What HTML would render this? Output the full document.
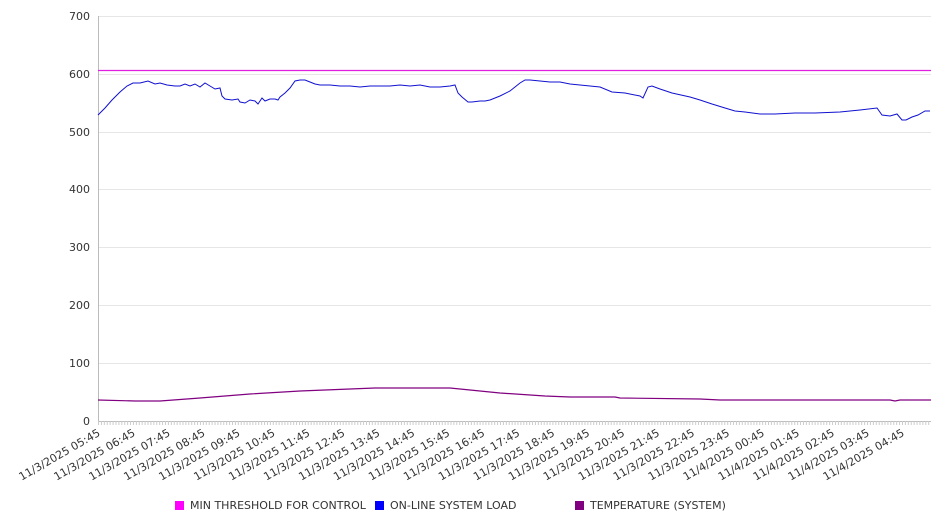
<!DOCTYPE html>
<html><head><meta charset="utf-8"><style>
html,body{margin:0;padding:0;background:#fff;}
svg{display:block;font-family:"DejaVu Sans","Liberation Sans",sans-serif;}
</style></head><body>
<svg width="946" height="526" viewBox="0 0 946 526" xmlns="http://www.w3.org/2000/svg">
<g stroke="#e6e6e6" stroke-width="1">
<line x1="98" y1="16.5" x2="931" y2="16.5"/>
<line x1="98" y1="74.5" x2="931" y2="74.5"/>
<line x1="98" y1="132.5" x2="931" y2="132.5"/>
<line x1="98" y1="189.5" x2="931" y2="189.5"/>
<line x1="98" y1="247.5" x2="931" y2="247.5"/>
<line x1="98" y1="305.5" x2="931" y2="305.5"/>
<line x1="98" y1="363.5" x2="931" y2="363.5"/>
</g>
<line x1="98.5" y1="16" x2="98.5" y2="421" stroke="#bbb"/>
<line x1="98" y1="421.5" x2="931" y2="421.5" stroke="#bbb"/>
<g fill="#333" font-size="11" text-anchor="end">
<text x="90" y="20">700</text><text x="90" y="78">600</text><text x="90" y="136">500</text>
<text x="90" y="193">400</text><text x="90" y="251">300</text><text x="90" y="309">200</text>
<text x="90" y="367">100</text><text x="90" y="425">0</text>
</g>
<g id="ticks" stroke="#ccc" stroke-width="1"></g>
<g id="labels" fill="#333" font-size="11" text-anchor="end"></g>
<line x1="98" y1="70.5" x2="931" y2="70.5" stroke="#e020e0" stroke-width="1.2"/>
<polyline fill="none" stroke="#1010d0" stroke-width="1" points="98,115 105,108 112,100 120,92 127,86 133,83 140,83 148,81 155,84 160,83 167,85 175,86 180,86 185,84 190,86 195,84 200,87 205,83 210,86 215,89 220,88 222,96 225,99 232,100 238,99 240,102 245,103 250,100 255,101 258,104 262,98 265,101 270,99 275,99 278,100 280,97 285,93 290,88 295,81 300,80 305,80 310,82 315,84 320,85 330,85 340,86 350,86 360,87 370,86 380,86 390,86 400,85 410,86 420,85 430,87 440,87 450,86 455,85 458,93 462,97 468,102 472,102 480,101 485,101 490,100 500,96 510,91 515,87 520,83 525,80 530,80 540,81 550,82 560,82 570,84 580,85 590,86 600,87 612,92 625,93 640,96 643,98 648,87 652,86 660,89 672,93 690,97 700,100 712,104 725,108 735,111 745,112 760,114 775,114 795,113 815,113 840,112 860,110 877,108 882,115 890,116 897,114 902,120 906,120 912,117 918,115 925,111 930,111"/>
<polyline fill="none" stroke="#800080" stroke-width="1.2" points="98,400 135,401 160,401 200,398 250,394 300,391 350,389 375,388 450,388 470,390 500,393 545,396 570,397 615,397 620,398 700,399 720,400 800,400 890,400 895,401 900,400 931,400"/>
<g font-size="11" fill="#333">
<rect x="175" y="501" width="9" height="9" fill="#ff00ff"/><text x="190" y="509">MIN THRESHOLD FOR CONTROL</text>
<rect x="375" y="501" width="9" height="9" fill="#0000ff"/><text x="390" y="509">ON-LINE SYSTEM LOAD</text>
<rect x="575" y="501" width="9" height="9" fill="#800080"/><text x="590" y="509">TEMPERATURE (SYSTEM)</text>
</g>
<script>
(function(){
var ns="http://www.w3.org/2000/svg",t=document.getElementById("ticks"),l=document.getElementById("labels");
for(var x=98.5;x<=931;x+=2.913){var ln=document.createElementNS(ns,"line");ln.setAttribute("x1",x);ln.setAttribute("x2",x);ln.setAttribute("y1",421);ln.setAttribute("y2",425);t.appendChild(ln);}
for(var i=0;i<24;i++){var h=(5+i)%24;var d=(5+i)>=24?"11/4/2025 ":"11/3/2025 ";var s=d+(h<10?"0":"")+h+":45";
var x=101+34.96*i,y=435;var tx=document.createElementNS(ns,"text");tx.setAttribute("x",x);tx.setAttribute("y",y);tx.setAttribute("transform","rotate(-30 "+x+" "+y+")");tx.textContent=s;l.appendChild(tx);}
})();
</script>
</svg>
</body></html>
